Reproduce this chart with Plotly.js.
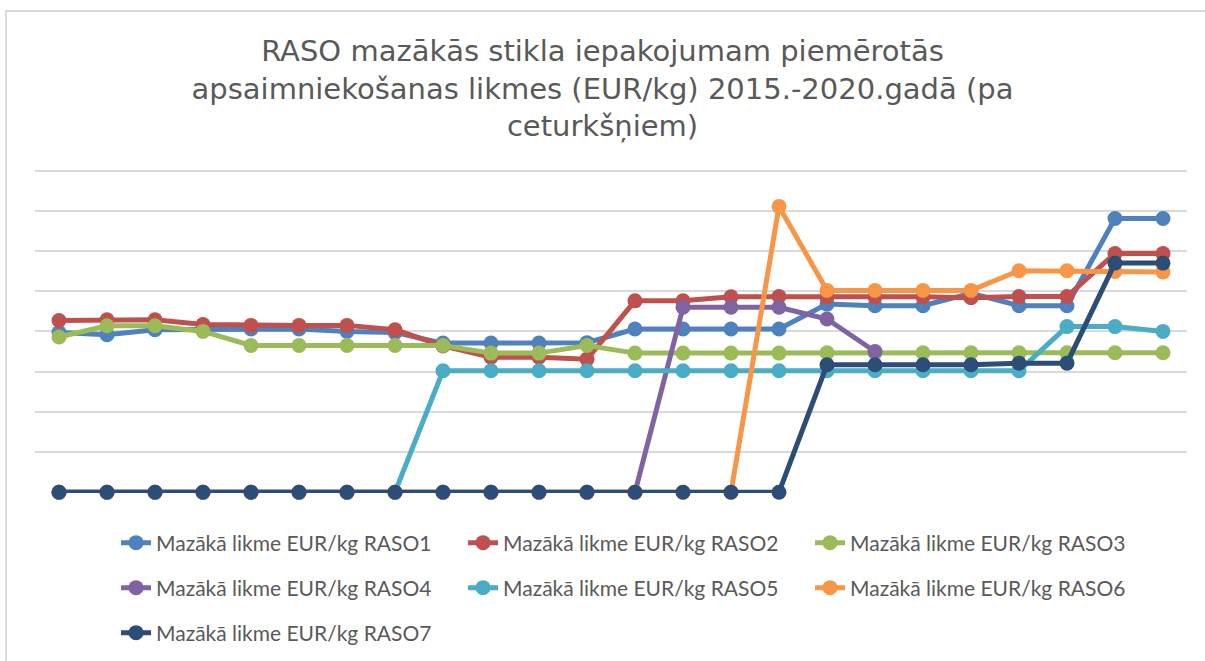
<!DOCTYPE html>
<html>
<head>
<meta charset="utf-8">
<script src="https://cdn.plot.ly/plotly-3.0.1.min.js"></script>
<style>
  html, body { margin: 0; padding: 0; background: #fff; }
  #wrap { position: relative; width: 1205px; height: 661px; overflow: hidden; }
  #chart { position: absolute; left: 0; top: 0; width: 1205px; height: 661px; }
  #frame { position: absolute; left: 5px; top: 10px; width: 1210px; height: 700px;
           border-top: 2px solid #d9d9d9; border-left: 2px solid #d9d9d9; pointer-events: none; }
</style>
</head>
<body>
<div id="wrap">
  <div id="chart"></div>
  <div id="frame"></div>
</div>
<script>
// Quarters 2015 Q1 .. 2020 Q4
const quarters = [
  "2015 Q1","2015 Q2","2015 Q3","2015 Q4",
  "2016 Q1","2016 Q2","2016 Q3","2016 Q4",
  "2017 Q1","2017 Q2","2017 Q3","2017 Q4",
  "2018 Q1","2018 Q2","2018 Q3","2018 Q4",
  "2019 Q1","2019 Q2","2019 Q3","2019 Q4",
  "2020 Q1","2020 Q2","2020 Q3","2020 Q4"
];

// Values (EUR/kg, estimated)
const raso1 = [0.0397,0.0392,0.0404,0.0404,0.0406,0.0406,0.0400,0.0397,
               0.0371,0.0371,0.0371,0.0372,0.0406,0.0406,0.0406,0.0406,
               0.0468,0.0464,0.0464,0.0495,0.0464,0.0464,0.0681,0.0681];
const raso2 = [0.0427,0.0429,0.0429,0.0417,0.0415,0.0415,0.0415,0.0404,
               0.0364,0.0336,0.0336,0.0331,0.0476,0.0476,0.0486,0.0487,
               0.0486,0.0486,0.0486,0.0484,0.0487,0.0487,0.0594,0.0594];
const raso3 = [0.0386,0.0414,0.0414,0.0400,0.0365,0.0365,0.0365,0.0365,
               0.0365,0.0346,0.0346,0.0365,0.0346,0.0346,0.0346,0.0346,
               0.0347,0.0347,0.0347,0.0347,0.0347,0.0347,0.0347,0.0347];
const raso4 = [0,0,0,0,0,0,0,0,
               0,0,0,0,0,0.0460,0.0460,0.0460,
               0.0431,0.0350,null,null,null,null,null,null];
const raso5 = [0,0,0,0,0,0,0,0,
               0.0302,0.0302,0.0302,0.0302,0.0302,0.0302,0.0302,0.0302,
               0.0302,0.0302,0.0302,0.0302,0.0302,0.0412,0.0412,0.0400];
const raso6 = [0,0,0,0,0,0,0,0,
               0,0,0,0,0,0,0,0.0711,
               0.0502,0.0502,0.0502,0.0502,0.0551,0.0551,0.0549,0.0548];
const raso7 = [0,0,0,0,0,0,0,0,
               0,0,0,0,0,0,0,0,
               0.0317,0.0317,0.0317,0.0317,0.0321,0.0321,0.0570,0.0570];

// Y gridline positions (EUR/kg)
const yGridVals = [0, 0.01, 0.02, 0.03, 0.04, 0.05, 0.06, 0.07, 0.08];

const seriesNames = [
  "Mazākā likme EUR/kg RASO1","Mazākā likme EUR/kg RASO2","Mazākā likme EUR/kg RASO3",
  "Mazākā likme EUR/kg RASO4","Mazākā likme EUR/kg RASO5","Mazākā likme EUR/kg RASO6",
  "Mazākā likme EUR/kg RASO7"
];
const seriesValues = [raso1, raso2, raso3, raso4, raso5, raso6, raso7];
const seriesColors = ["#4F81BD","#C0504D","#9BBB59","#8064A2","#4BACC6","#F79646","#2C4D75"];
const legendOf = ["legend","legend","legend","legend2","legend2","legend2","legend3"];

const traces = seriesValues.map((v, i) => ({
  type: "scatter",
  mode: "lines+markers",
  x: quarters,
  y: v,
  name: seriesNames[i],
  legend: legendOf[i],
  line: { color: seriesColors[i], width: 5 },
  marker: { color: seriesColors[i], size: 15 },
  cliponaxis: false,
  connectgaps: false,
  hoverinfo: "x+y+name"
}));

const legendCommon = {
  orientation: "h",
  xref: "container", yref: "container",
  xanchor: "left", yanchor: "middle",
  x: 0.0963,
  entrywidth: 302, entrywidthmode: "pixels",
  font: { family: "Lato, 'Open Sans', sans-serif", size: 21, color: "#595959" },
  bgcolor: "rgba(0,0,0,0)",
  traceorder: "normal",
  itemclick: false
};

const layout = {
  width: 1205, height: 661,
  paper_bgcolor: "#ffffff",
  plot_bgcolor: "#ffffff",
  margin: { l: 35, r: 18, t: 165, b: 168 },
  title: {
    text: "RASO mazākās stikla iepakojumam piemērotās<br>apsaimniekošanas likmes (EUR/kg) 2015.-2020.gadā (pa<br>ceturkšņiem)",
    font: { family: "'DejaVu Sans', sans-serif", size: 29, color: "#595959" },
    x: 0.5, xanchor: "center",
    y: 1 - 61 / 661, yanchor: "top",
    yref: "container"
  },
  xaxis: {
    type: "category",
    range: [-0.5, 23.5],
    showgrid: false, zeroline: false, showline: false,
    showticklabels: false, ticks: ""
  },
  yaxis: {
    range: [-0.0002, 0.0814],
    tickmode: "array",
    tickvals: yGridVals,
    showgrid: true, gridcolor: "#d9d9d9", gridwidth: 2,
    zeroline: false, showline: false,
    showticklabels: false, ticks: ""
  },
  showlegend: true,
  legend: Object.assign({}, legendCommon, { y: 1 - 543 / 661 }),
  legend2: Object.assign({}, legendCommon, { y: 1 - 588 / 661 }),
  legend3: Object.assign({}, legendCommon, { y: 1 - 633 / 661 })
};

Plotly.newPlot("chart", traces, layout, { displayModeBar: false, staticPlot: true });
</script>
</body>
</html>
